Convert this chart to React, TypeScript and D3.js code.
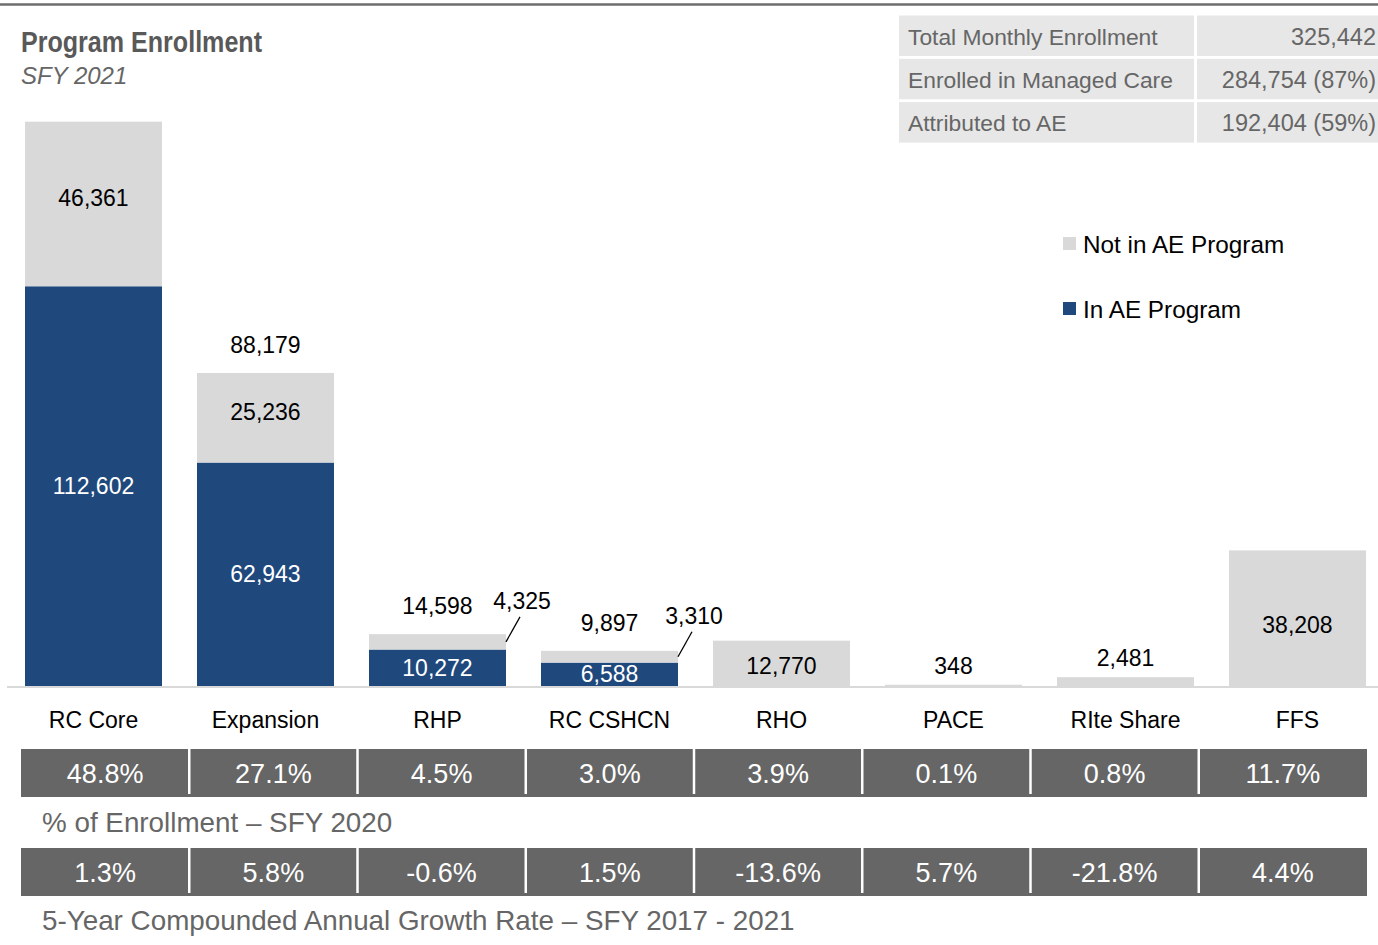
import React from "react";
import * as d3 from "d3";

const categories = ["RC Core", "Expansion", "RHP", "RC CSHCN", "RHO", "PACE", "RIte Share", "FFS"];
const inAE = [112602, 62943, 10272, 6588, 0, 0, 0, 0];
const notInAE = [46361, 25236, 4325, 3310, 12770, 348, 2481, 38208];
const totalLabels = [null, "88,179", "14,598", "9,897", null, null, null, null];
const pct2020 = ["48.8%", "27.1%", "4.5%", "3.0%", "3.9%", "0.1%", "0.8%", "11.7%"];
const cagr = ["1.3%", "5.8%", "-0.6%", "1.5%", "-13.6%", "5.7%", "-21.8%", "4.4%"];
const summaryLabels = ["Total Monthly Enrollment", "Enrolled in Managed Care", "Attributed to AE"];
const summaryValues = ["325,442", "284,754 (87%)", "192,404 (59%)"];
const legendItems = ["Not in AE Program", "In AE Program"];

const W = 1378;
const H = 945;
const BLUE = "#1f497d";
const LGRAY = "#d9d9d9";
const DGRAY = "#666666";
const FONT = "'Liberation Sans', Arial, sans-serif";

export default function App() {
  const x = d3
    .scaleBand<string>()
    .domain(categories)
    .range([7.5, 1383.5])
    .paddingInner(35 / 172)
    .paddingOuter(17.5 / 172);
  const y = d3.scaleLinear().domain([0, 160000]).range([686, 118]);
  const fmt = d3.format(",");
  const tx = d3.scaleBand<string>().domain(categories).range([21, 1367]).padding(0);
  const bw = x.bandwidth();

  const bars = categories.map((c, i) => {
    const x0 = x(c)!;
    const cx = x0 + bw / 2;
    const yb = y(0);
    const yBlue = y(inAE[i]);
    const yTop = y(inAE[i] + notInAE[i]);
    const grayH = yBlue - yTop;
    const els: React.ReactNode[] = [];
    if (inAE[i] > 0) {
      els.push(<rect key="b" x={x0} y={yBlue} width={bw} height={yb - yBlue} fill={BLUE} />);
    }
    els.push(<rect key="g" x={x0} y={yTop} width={bw} height={grayH} fill={LGRAY} />);
    if (inAE[i] > 0) {
      els.push(
        <text key="bl" x={cx} y={(yBlue + yb) / 2} fill="#fff" fontSize={23} textAnchor="middle" dominantBaseline="central" fontFamily={FONT}>
          {fmt(inAE[i])}
        </text>
      );
      if (grayH > 30) {
        els.push(
          <text key="gl" x={cx} y={(yTop + yBlue) / 2 - 6} fill="#000" fontSize={23} textAnchor="middle" dominantBaseline="central" fontFamily={FONT}>
            {fmt(notInAE[i])}
          </text>
        );
      } else {
        const gc = (yTop + yBlue) / 2;
        const xr = x0 + bw;
        els.push(<line key="ll" x1={xr} y1={gc} x2={xr + 14} y2={gc - 25} stroke="#000" strokeWidth={1.3} />);
        els.push(
          <text key="gl" x={xr + 16} y={gc - 41} fill="#000" fontSize={23} textAnchor="middle" dominantBaseline="central" fontFamily={FONT}>
            {fmt(notInAE[i])}
          </text>
        );
      }
    } else {
      const inside = grayH > 40;
      els.push(
        <text key="gl" x={cx} y={inside ? yTop + grayH * 0.55 : yTop - 19} fill="#000" fontSize={23} textAnchor="middle" dominantBaseline="central" fontFamily={FONT}>
          {fmt(notInAE[i])}
        </text>
      );
    }
    if (totalLabels[i]) {
      els.push(
        <text key="tl" x={cx} y={yTop - 28} fill="#000" fontSize={23} textAnchor="middle" dominantBaseline="central" fontFamily={FONT}>
          {totalLabels[i]}
        </text>
      );
    }
    els.push(
      <text key="cat" x={cx} y={720} fill="#000" fontSize={23} textAnchor="middle" dominantBaseline="central" fontFamily={FONT}>
        {c}
      </text>
    );
    return <g key={c}>{els}</g>;
  });

  const tableRow = (vals: string[], y0: number, key: string) => (
    <g key={key}>
      <rect x={21} y={y0} width={1346} height={48} fill={DGRAY} />
      {categories.map((c, i) => (
        <g key={c}>
          {i > 0 && <line x1={tx(c)!} x2={tx(c)!} y1={y0} y2={y0 + 45} stroke="#fff" strokeWidth={2.5} />}
          <text x={tx(c)! + tx.bandwidth() / 2} y={y0 + 25} fill="#fff" fontSize={27} textAnchor="middle" dominantBaseline="central" fontFamily={FONT}>
            {vals[i]}
          </text>
        </g>
      ))}
    </g>
  );

  return (
    <svg width={W} height={H} style={{ position: "absolute", left: 0, top: 0, background: "#fff" }}>
      <line x1={0} x2={W} y1={4.5} y2={4.5} stroke="#6d6d6d" strokeWidth={2.5} />
      <text x={21} y={52} fill="#595959" fontSize={30} fontWeight="bold" fontFamily={FONT} textLength={241} lengthAdjust="spacingAndGlyphs">
        Program Enrollment
      </text>
      <text x={21} y={84} fill="#666" fontSize={24} fontStyle="italic" fontFamily={FONT}>
        SFY 2021
      </text>

      {summaryLabels.map((s, i) => {
        const y0 = 15.5 + i * 43.3;
        return (
          <g key={s}>
            <rect x={899} y={y0} width={295} height={40.5} fill="#e7e7e7" />
            <rect x={1197} y={y0} width={181} height={40.5} fill="#e7e7e7" />
            <text x={908} y={y0 + 21} fill="#666" fontSize={22.8} dominantBaseline="central" fontFamily={FONT}>
              {s}
            </text>
            <text x={1376} y={y0 + 21} fill="#666" fontSize={23.5} textAnchor="end" dominantBaseline="central" fontFamily={FONT}>
              {summaryValues[i]}
            </text>
          </g>
        );
      })}

      {legendItems.map((l, i) => (
        <g key={l}>
          <rect x={1063} y={237 + i * 65} width={13} height={13} fill={i === 0 ? LGRAY : BLUE} />
          <text x={1083} y={244 + i * 65} fill="#000" fontSize={24.3} dominantBaseline="central" fontFamily={FONT}>
            {l}
          </text>
        </g>
      ))}

      {bars}
      <line x1={7} x2={W} y1={687} y2={687} stroke={LGRAY} strokeWidth={2} />

      {tableRow(pct2020, 749, "r1")}
      <text x={42} y={822} fill="#666" fontSize={27.8} dominantBaseline="central" fontFamily={FONT}>
        % of Enrollment – SFY 2020
      </text>
      {tableRow(cagr, 848, "r2")}
      <text x={42} y={920} fill="#666" fontSize={27.8} dominantBaseline="central" fontFamily={FONT}>
        5-Year Compounded Annual Growth Rate – SFY 2017 - 2021
      </text>
    </svg>
  );
}
